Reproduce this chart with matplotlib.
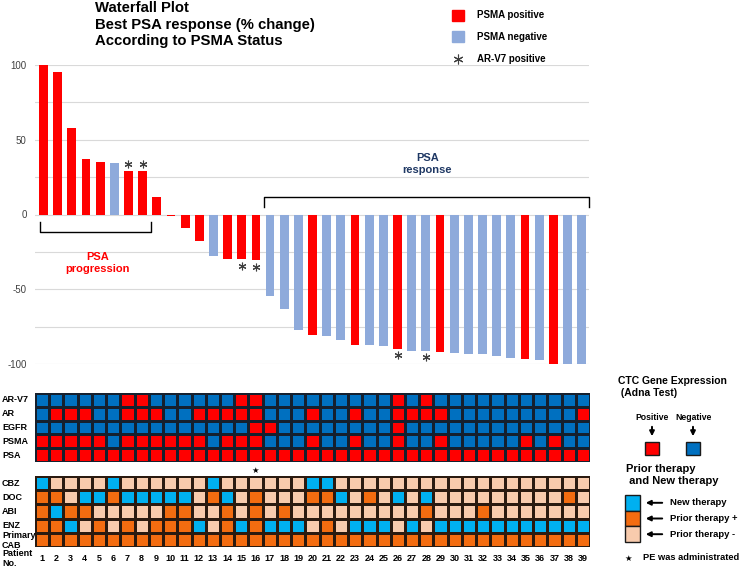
import matplotlib.pyplot as plt
import numpy as np
from matplotlib.colors import ListedColormap
from matplotlib.lines import Line2D
from matplotlib.patches import Rectangle, FancyArrowPatch
from matplotlib.transforms import blended_transform_factory

plt.rcParams['font.family'] = ['Liberation Sans', 'DejaVu Sans']
plt.rcParams['font.weight'] = 'bold'

# figure size in pixels, helpers to place things by pixel
W, H = 740, 568


def fx(px):
    return px / W


def fy(py):
    return 1 - py / H


# ---- data ----
patients = list(range(1, 40))
psa_change = [100, 95, 58, 37, 35, 34.5, 29, 29, 12, -1,
              -9, -18, -28, -29.5, -30, -30.5, -54.5, -63, -77, -80.5,
              -81, -84, -87, -87.2, -87.7, -89.7, -91, -91, -91.7, -92.6,
              -93, -93.5, -94.4, -96.2, -96.9, -97.3, -99.8, -100, -100]

# CTC gene expression (AdnaTest): patients positive for each gene
ctc_genes = ['AR-V7', 'AR', 'EGFR', 'PSMA', 'PSA']
arv7_pos = [7, 8, 15, 16, 26, 28]
ar_pos = [2, 3, 4, 7, 8, 9, 12, 13, 14, 15, 16, 20, 23, 26, 27, 28, 29, 39]
egfr_pos = [16, 17, 26]
psma_pos = [1, 2, 3, 4, 5, 7, 8, 9, 10, 11, 12, 14, 15, 16, 20, 23, 26, 29, 35, 37]
psa_pos = patients

# therapy rows: patients on new therapy / with prior therapy (+); rest prior (-)
therapies = ['CBZ', 'DOC', 'ABI', 'ENZ', 'Primary\nCAB']
cbz_new = [1, 6, 13, 20, 21]
cbz_prior = []
doc_new = [4, 5, 7, 8, 9, 10, 11, 14, 22, 26, 28]
doc_prior = [1, 2, 6, 13, 16, 20, 21, 24, 38]
abi_new = [2]
abi_prior = [1, 3, 4, 10, 11, 14, 16, 18, 28, 32]
enz_new = [3, 12, 15, 17, 18, 19, 23, 24, 25, 27, 29, 30, 31, 32, 33, 34, 35, 36, 37, 38, 39]
enz_prior = [1, 2, 5, 7, 9, 10, 11, 14, 16, 21]
cab_new = []
cab_prior = patients
pe_patients = [16]

# colours
red = '#ff0000'
light_blue = '#8eaadb'
heat_blue = '#0070c0'
new_c = '#00b0f0'
prior_pos_c = '#f36c10'
prior_neg_c = '#f8cbad'

fig = plt.figure(figsize=(W / 100, H / 100), dpi=100)

# ---------------- waterfall ----------------
ax = fig.add_axes([fx(35), fy(364), (589 - 35) / W, (364 - 65) / H])
bar_cols = [red if p in psma_pos else light_blue for p in patients]
ax.bar(patients, psa_change, width=0.62, color=bar_cols, zorder=2)
ax.set_xlim(0.4, 39.52)
ax.set_ylim(-100, 100)
yt = np.arange(-100, 101, 25)
ax.set_yticks(yt)
ax.set_yticklabels([str(v) if v % 50 == 0 else '' for v in yt],
                   fontsize=7, fontweight='normal', color='#404040')
ax.tick_params(axis='y', length=0, pad=6)
ax.set_xticks([])
ax.yaxis.grid(True, color='#d9d9d9', lw=0.8, zorder=0)
for s in ax.spines.values():
    s.set_visible(False)

# AR-V7 positive asterisks
for p in arv7_pos:
    v = psa_change[p - 1]
    ax.plot(p, v + 5 if v > 0 else v - 4.5, marker=(6, 2, 0), ms=5.5,
            color='#404040', mew=0.8, zorder=3)

# brackets
ax.plot([16.57, 16.57, 39.5, 39.5], [4.7, 11.4, 11.4, 4.7], color='black', lw=1,
        clip_on=False)
ax.plot([0.75, 0.75, 8.6, 8.6], [-4.7, -11.4, -11.4, -4.7], color='black', lw=1)
ax.text(28.1, 33.8, 'PSA\nresponse', color='#1f3864', fontsize=8, ha='center',
        va='center', linespacing=1.25)
ax.text(4.85, -32.4, 'PSA\nprogression', color=red, fontsize=8, ha='center',
        va='center', linespacing=1.25)

# title
fig.text(fx(95), fy(24.5), 'Waterfall Plot\nBest PSA response (% change)\nAccording to PSMA Status',
         fontsize=10.7, ha='left', va='center', linespacing=1.22)

# top legend
fig.add_artist(Rectangle((fx(452), fy(21)), 12 / W, 11 / H, transform=fig.transFigure,
                         color=red))
fig.add_artist(Rectangle((fx(452), fy(42)), 12 / W, 11 / H, transform=fig.transFigure,
                         color=light_blue))
fig.add_artist(Line2D([fx(458)], [fy(59)], marker=(6, 2, 0), ms=7, color='#404040',
                      mew=0.8, transform=fig.transFigure))
fig.text(fx(477), fy(15.5), 'PSMA positive', fontsize=7, va='center')
fig.text(fx(477), fy(37), 'PSMA negative', fontsize=7, va='center')
fig.text(fx(477), fy(59), 'AR-V7 positive', fontsize=7, va='center')

# ---------------- CTC gene expression heatmap ----------------
ctc = np.array([[1 if p in lst else 0 for p in patients]
                for lst in [arv7_pos, ar_pos, egfr_pos, psma_pos, psa_pos]])
ax1 = fig.add_axes([fx(35), fy(462), (590 - 35) / W, (462 - 393) / H])
ax1.pcolormesh(np.arange(0.5, 40), np.arange(6), ctc,
               cmap=ListedColormap([heat_blue, red]), vmin=0, vmax=1,
               edgecolors='#15202e', linewidth=0.9)
ax1.set_xlim(0.5, 39.5)
ax1.set_ylim(5, 0)
ax1.axis('off')
tr1 = blended_transform_factory(fig.transFigure, ax1.transData)
for i, g in enumerate(ctc_genes):
    ax1.text(fx(2), i + 0.5, g, transform=tr1, fontsize=6.5, va='center', ha='left')

# ---------------- therapy heatmap ----------------
rows = [(cbz_new, cbz_prior), (doc_new, doc_prior), (abi_new, abi_prior),
        (enz_new, enz_prior), (cab_new, cab_prior)]
ther = np.array([[2 if p in nw else (1 if p in pr else 0) for p in patients]
                 for nw, pr in rows])
ax2 = fig.add_axes([fx(35), fy(547), (590 - 35) / W, (547 - 476) / H])
ax2.pcolormesh(np.arange(0.5, 40), np.arange(6), ther,
               cmap=ListedColormap([prior_neg_c, prior_pos_c, new_c]), vmin=0, vmax=2,
               edgecolors='#2a1a10', linewidth=0.9)
ax2.set_xlim(0.5, 39.5)
ax2.set_ylim(5, 0)
for s in ax2.spines.values():
    s.set_visible(False)
ax2.set_yticks([])
ax2.set_xticks(patients)
ax2.set_xticklabels([str(p) for p in patients], fontsize=6.5)
ax2.tick_params(axis='x', length=0, pad=5)
tr2 = blended_transform_factory(fig.transFigure, ax2.transData)
for i, t in enumerate(therapies[:-1]):
    ax2.text(fx(2), i + 0.5, t, transform=tr2, fontsize=6.5, va='center', ha='left')
ax2.text(fx(2), 4.55, therapies[-1], transform=tr2, fontsize=6.5, va='center',
         ha='left', linespacing=1.2)
ax2.text(fx(2), 5.8, 'Patient\nNo.', transform=tr2, fontsize=6.5, va='center',
         ha='left', linespacing=1.2)
for p in pe_patients:
    ax2.text(p, -0.42, '★', fontsize=6, ha='center', va='center', family='DejaVu Sans',
             clip_on=False)

# ---------------- right-hand legends ----------------
fig.text(fx(618), fy(387), 'CTC Gene Expression\n (Adna Test)', fontsize=7.5,
         va='center', ha='left', linespacing=1.3)
fig.text(fx(652), fy(417), 'Positive', fontsize=6.2, ha='center', va='center')
fig.text(fx(694), fy(417), 'Negative', fontsize=6.2, ha='center', va='center')
for xx, c in [(652, red), (693, heat_blue)]:
    fig.add_artist(FancyArrowPatch((fx(xx), fy(424)), (fx(xx), fy(439)),
                                   transform=fig.transFigure, arrowstyle='-|>',
                                   mutation_scale=7, lw=1.4, color='black'))
    fig.add_artist(Rectangle((fx(xx - 7), fy(455)), 14 / W, 13 / H,
                             transform=fig.transFigure, facecolor=c,
                             edgecolor='#1a1a1a', lw=1))

fig.text(fx(626), fy(475), 'Prior therapy\n and New therapy', fontsize=8,
         va='center', ha='left', linespacing=1.3)
leg_items = [(new_c, 'New therapy'), (prior_pos_c, 'Prior therapy +'),
             (prior_neg_c, 'Prior therapy -')]
for k, (c, lab) in enumerate(leg_items):
    top = 495 + k * 15.7
    fig.add_artist(Rectangle((fx(625), fy(top + 15.7)), 15 / W, 15.7 / H,
                             transform=fig.transFigure, facecolor=c,
                             edgecolor='#1a1a1a', lw=1))
    yc = top + 7.8
    fig.add_artist(FancyArrowPatch((fx(665), fy(yc)), (fx(643), fy(yc)),
                                   transform=fig.transFigure, arrowstyle='-|>',
                                   mutation_scale=7, lw=1.4, color='black'))
    fig.text(fx(670), fy(yc), lab, fontsize=6.8, va='center', ha='left')

fig.text(fx(628), fy(558), '★', fontsize=6, va='center', ha='center',
         family='DejaVu Sans')
fig.text(fx(643), fy(558), 'PE was administrated', fontsize=6.7, va='center',
         ha='left')

fig.savefig('out.png', dpi=100)
